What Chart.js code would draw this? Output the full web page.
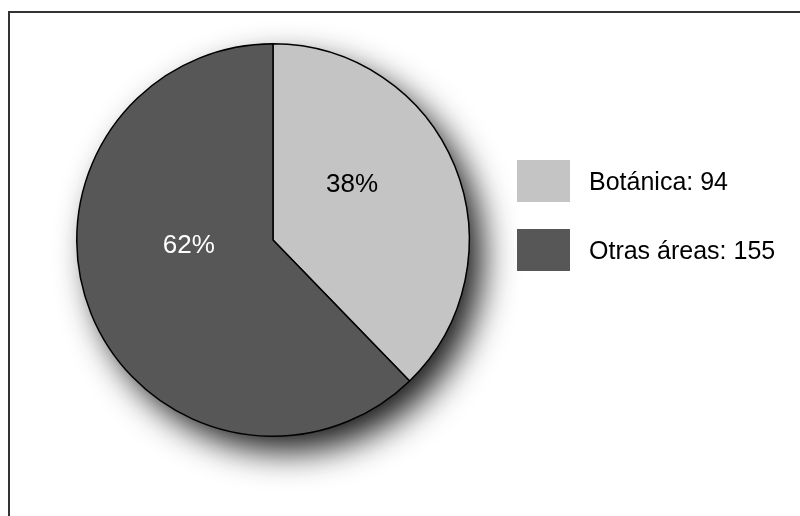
<!DOCTYPE html>
<html>
<head>
<meta charset="utf-8">
<script src="https://cdn.jsdelivr.net/npm/chart.js@4.4.0/dist/chart.umd.min.js"></script>
<style>
    html, body { margin: 0; padding: 0; background: #fff; }
    #wrap { position: relative; width: 800px; height: 516px; }
</style>
</head>
<body>
<div id="wrap"><canvas id="pieChart" width="800" height="516"></canvas></div>
<script>
const categories = ['Botánica', 'Otras áreas'];
const counts = [94, 155];
const sliceColors = ['#c4c4c4', '#575757'];
const labelColors = ['#000000', '#ffffff'];

const FONT = '"Liberation Sans", Arial, Helvetica, sans-serif';

// frame: only the top and left lines are visible in the picture
const framePlugin = {
    id: 'frame',
    beforeDraw(chart) {
        const ctx = chart.ctx;
        ctx.save();
        ctx.fillStyle = '#fff';
        ctx.fillRect(0, 0, chart.width, chart.height);
        ctx.strokeStyle = '#333';
        ctx.lineWidth = 2;
        ctx.beginPath();
        ctx.moveTo(9, chart.height);
        ctx.lineTo(9, 12);
        ctx.lineTo(chart.width, 12);
        ctx.stroke();
        ctx.restore();
    }
};

// soft drop shadow under the pie
const shadowPlugin = {
    id: 'pieShadow',
    beforeDatasetsDraw(chart) {
        const arc = chart.getDatasetMeta(0).data[0];
        if (!arc) return;
        const ctx = chart.ctx;
        ctx.save();
        ctx.shadowColor = 'rgba(0,0,0,0.9)';
        ctx.shadowBlur = 34;
        ctx.shadowOffsetX = 14;
        ctx.shadowOffsetY = 16;
        ctx.fillStyle = '#555';
        ctx.beginPath();
        ctx.arc(arc.x, arc.y, arc.outerRadius - 1, 0, Math.PI * 2);
        ctx.fill();
        ctx.restore();
    }
};

// percentage labels inside slices
const labelPlugin = {
    id: 'sliceLabels',
    afterDatasetsDraw(chart) {
        const meta = chart.getDatasetMeta(0);
        const total = counts.reduce((a, b) => a + b, 0);
        const shift = [-0.22, 0.32];
        const dist = [0.49, 0.43];
        const ctx = chart.ctx;
        ctx.save();
        ctx.font = '26px ' + FONT;
        ctx.textAlign = 'center';
        ctx.textBaseline = 'middle';
        meta.data.forEach((arc, i) => {
            const mid = (arc.startAngle + arc.endAngle) / 2 + shift[i];
            const r = arc.outerRadius * dist[i];
            ctx.fillStyle = labelColors[i];
            ctx.fillText(Math.round(counts[i] / total * 100) + '%',
                arc.x + Math.cos(mid) * r, arc.y + Math.sin(mid) * r);
        });
        ctx.restore();
    }
};

// legend on the right
const legendPlugin = {
    id: 'sideLegend',
    afterDraw(chart) {
        const ctx = chart.ctx;
        ctx.save();
        ctx.font = '25px ' + FONT;
        ctx.textBaseline = 'middle';
        categories.forEach((name, i) => {
            const top = 160 + i * 69;
            ctx.fillStyle = sliceColors[i];
            ctx.fillRect(517, top, 53, 42);
            ctx.fillStyle = '#000';
            ctx.fillText(name + ': ' + counts[i], 589, top + 23);
        });
        ctx.restore();
    }
};

new Chart(document.getElementById('pieChart'), {
    type: 'pie',
    data: {
        labels: categories,
        datasets: [{
            data: counts,
            backgroundColor: sliceColors,
            borderColor: '#000',
            borderWidth: 1.5
        }]
    },
    options: {
        responsive: false,
        animation: false,
        layout: { padding: { left: 76, top: 43, right: 330, bottom: 79 } },
        plugins: {
            legend: { display: false },
            tooltip: { enabled: false }
        }
    },
    plugins: [framePlugin, shadowPlugin, labelPlugin, legendPlugin]
});
</script>
</body>
</html>
